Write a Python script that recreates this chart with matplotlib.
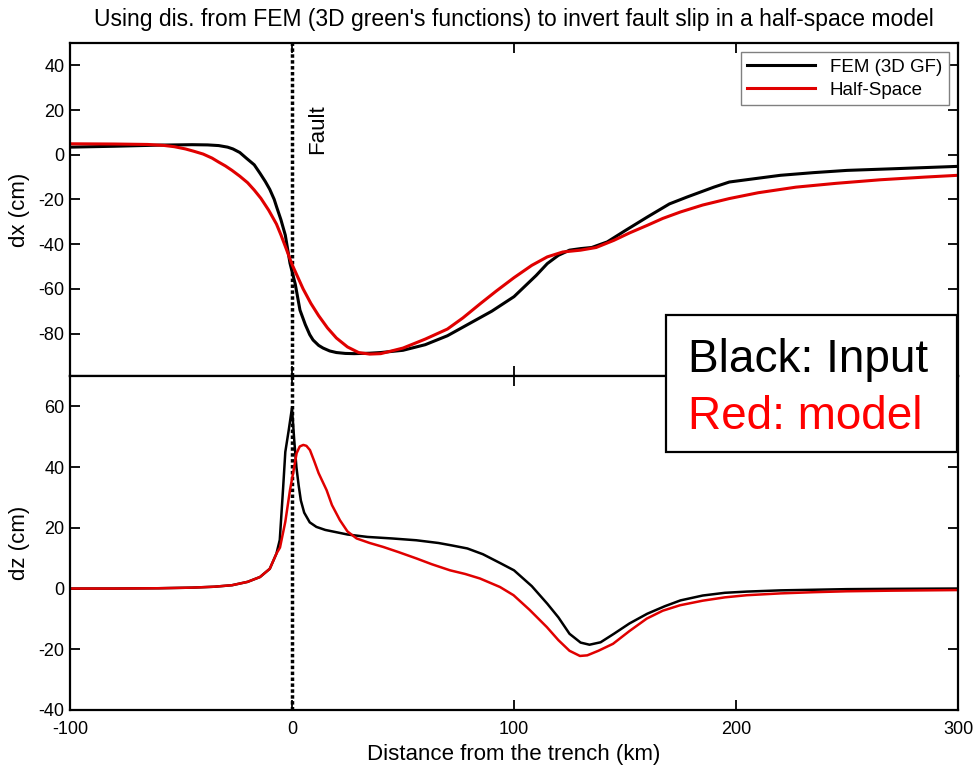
import matplotlib
matplotlib.use('Agg')
import matplotlib.pyplot as plt
from matplotlib.patches import Rectangle

plt.rcParams['font.family'] = ['Liberation Sans', 'DejaVu Sans']
plt.rcParams['axes.unicode_minus'] = False

# horizontal displacement dx (cm), FEM input (3D GF)
x_dx_fem = [-100, -80, -60, -45, -38, -33, -29, -26.6, -23.5, -20.6, -17, -14.4, -12, -10, -8,
            -6.9, -5, -3, -0.9, 1.5, 3.6, 6, 8, 9.5, 12, 14, 17, 20, 24, 28, 35, 40, 50, 60,
            70, 80, 90, 100, 110, 115, 120, 125, 130, 135, 142, 150, 160, 170, 178, 190, 197,
            210, 220, 235, 250, 270, 300]
dx_fem = [3.4, 3.8, 4.3, 4.5, 4.4, 4.1, 3.4, 2.6, 1.0, -1.5, -4.5, -8.3, -12, -15.5, -20, -23.4,
          -29, -36, -48.5, -58, -69.5, -76, -80.5, -82.9, -85.3, -86.5, -87.8, -88.5, -88.9,
          -89, -88.8, -88.5, -87.5, -85, -81, -75.5, -70, -63.5, -54, -48.7, -45, -42.7,
          -42, -41.5, -39, -34, -27.9, -22, -18.9, -14.5, -12.2, -10.5, -9.2, -8, -7, -6.3, -5.2]

# dx, half-space model
x_dx_hs = [-100, -80, -65, -58, -53, -48, -44, -40, -36, -33, -30, -27, -23.5, -20, -17,
           -14, -10.5, -7, -5, -3, 0, 2.5, 5, 8.5, 12, 16, 20, 25, 30, 35, 40, 50, 60, 70, 77,
           85, 92, 100, 108, 115, 122, 130, 137, 145, 152, 160, 167, 175, 185, 197, 210, 227,
           245, 265, 285, 300]
dx_hs = [4.9, 4.8, 4.6, 4.2, 3.6, 2.6, 1.5, 0.3, -1.5, -3.3, -5.0, -7, -9.6, -12.5, -15.8,
         -19.5, -24.8, -31, -35.8, -41, -49, -54.5, -60, -66.5, -72, -77.5, -82, -86, -88.5,
         -89.2, -89, -86.5, -82.5, -78, -73, -66.5, -61, -55, -49.5, -45.7, -43.5, -42.7,
         -41.5, -38.3, -35, -31.6, -28.5, -25.6, -22.5, -19.6, -17, -14.5, -12.8, -11.2,
         -10, -9.2]

# vertical displacement dz (cm), FEM input
x_dz_fem = [-100, -80, -60, -45, -35, -27, -20, -14.4, -10, -7, -5.5, -4, -3, -1.5, 0, 1, 2,
            3, 4, 5.5, 8, 11, 15, 19, 25, 34, 45, 56, 66, 72, 79, 86, 94, 100, 108, 115, 120,
            125, 130, 134, 139, 145, 152, 160, 168, 175, 185, 195, 205, 220, 235, 250, 270, 300]
dz_fem = [0, 0, 0.1, 0.3, 0.6, 1.1, 2.2, 3.8, 6.5, 11.5, 16, 33, 45, 52, 59.5, 49, 40, 34,
          29, 25, 21.8, 20.3, 19.3, 18.7, 17.8, 17, 16.5, 15.9, 15, 14.2, 13.2, 11.3, 8.3, 6,
          0.8, -5, -9.5, -14.9, -17.8, -18.5, -17.7, -14.9, -11.5, -8.3, -5.8, -3.9, -2.3,
          -1.4, -1.0, -0.6, -0.4, -0.2, -0.1, 0]

# dz, half-space model
x_dz_hs = [-100, -80, -60, -45, -35, -27, -20, -14.4, -10, -7, -5.4, -3, -0.9, 0, 1, 2.1,
           3.5, 5.1, 6.5, 8.1, 10, 12, 15.6, 18, 21.6, 25, 29.1, 35, 41.1, 48, 56.1, 63, 71.2,
           78, 84.7, 93.7, 99.8, 107, 114.8, 120, 125, 129.7, 133, 138, 144.6, 152, 159.8,
           167, 174.8, 185, 195, 204.8, 220, 235, 249.9, 270, 300]
dz_hs = [0, 0, 0.1, 0.3, 0.6, 1.1, 2.2, 3.8, 6.5, 11.5, 13.5, 22, 32.4, 36, 40, 44.6, 46.8,
         47.3, 47, 45.6, 42, 38, 32.4, 27.5, 22.5, 18.8, 16.5, 15, 13.7, 12, 9.9, 8, 6, 4.8,
         3.3, 0.5, -2.2, -7, -12.7, -17, -20.5, -22.2, -22, -20.5, -18.2, -14, -9.9, -7.3,
         -5.5, -4, -2.9, -2.2, -1.6, -1.2, -0.9, -0.7, -0.5]

fault_x = 0
xticks = [-100, 0, 100, 200, 300]
red = '#e00000'

fig = plt.figure(figsize=(9.77, 7.65), dpi=100)
ax1 = fig.add_axes([0.0716, 0.5085, 0.909, 0.4353])
ax2 = fig.add_axes([0.0716, 0.0719, 0.909, 0.4366])

ax1.plot(x_dx_fem, dx_fem, color='black', lw=2.2, label='FEM (3D GF)')
ax1.plot(x_dx_hs, dx_hs, color=red, lw=2.2, label='Half-Space')
ax2.plot(x_dz_fem, dz_fem, color='black', lw=1.8)
ax2.plot(x_dz_hs, dz_hs, color=red, lw=1.8)

for ax in (ax1, ax2):
    ax.axvline(fault_x, color='black', lw=2.5, linestyle=(0, (1, 0.7)), zorder=1)
    ax.set_xlim(-100, 300)
    ax.set_xticks(xticks)
    ax.tick_params(direction='in', length=7, width=1.3, top=True, right=True,
                   labelsize=13, pad=4)
    for s in ax.spines.values():
        s.set_linewidth(1.6)

ax1.set_ylim(-99, 50)
ax1.set_yticks([-80, -60, -40, -20, 0, 20, 40])
ax1.tick_params(labelbottom=False)
ax2.set_ylim(-40, 70)
ax2.set_yticks([-40, -20, 0, 20, 40, 60])
ax2.tick_params(axis='x', pad=8)

ax1.set_ylabel('dx (cm)', fontsize=16, labelpad=6)
ax2.set_ylabel('dz (cm)', fontsize=16, labelpad=6)
ax2.set_xlabel('Distance from the trench (km)', fontsize=16, labelpad=4)
ax1.set_title("Using dis. from FEM (3D green's functions) to invert fault slip in a half-space model",
              fontsize=16.5, pad=12)

ax1.text(7, 0.5, 'Fault', rotation=90, ha='left', va='bottom', fontsize=16)

leg = ax1.legend(loc='upper right', fontsize=13.5, handlelength=3.6, borderaxespad=0.5,
                 fancybox=False, framealpha=1, labelspacing=0.3, borderpad=0.35)
leg.get_frame().set_edgecolor('#808080')
leg.get_frame().set_linewidth(1.0)

fig.add_artist(Rectangle((0.6817, 0.4092), 0.2978, 0.179, transform=fig.transFigure,
                         facecolor='white', edgecolor='black', lw=1.6, zorder=10))
fig.text(688 / 977, 1 - 372 / 765, 'Black: Input', fontsize=33, color='black',
         va='baseline', ha='left', zorder=11)
fig.text(688 / 977, 1 - 429 / 765, 'Red: model', fontsize=33, color='#ff0000',
         va='baseline', ha='left', zorder=11)

fig.savefig('out.png', dpi=100)
